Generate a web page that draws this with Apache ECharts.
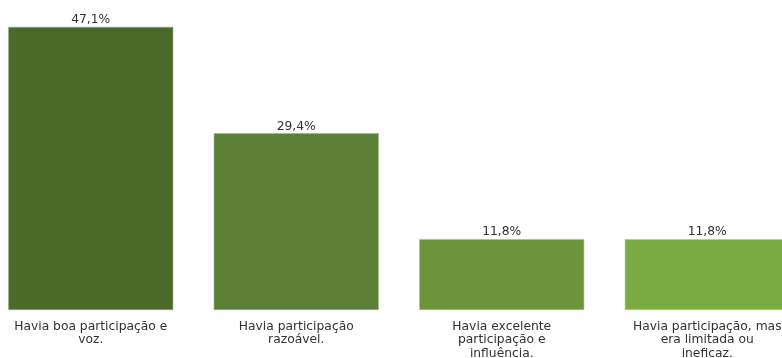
<!DOCTYPE html>
<html>
<head>
<meta charset="utf-8">
<script src="https://cdn.jsdelivr.net/npm/echarts@6/dist/echarts.min.js"></script>
<style>html,body{margin:0;padding:0;background:#fff;overflow:hidden;width:782px;height:358px}#c{width:822px;height:358px;margin-left:-12px}</style>
</head>
<body>
<div id="c"></div>
<script>
var categories = ["Havia boa participação e\nvoz.", "Havia participação\nrazoável.", "Havia excelente\nparticipação e\ninfluência.", "Havia participação, mas\nera limitada ou\nineficaz."];
var values = [47.1, 29.4, 11.8, 11.8];
var colors = ["#4b6a2a", "#5a7f35", "#6b943b", "#7aac43"];
var borders = ["#8fa67a", "#9cb586", "#a7c48a", "#b2d08f"];

var chart = echarts.init(document.getElementById('c'), null, {renderer: 'canvas'});
chart.setOption({
  animation: false,
  grid: {left: 0, right: 0, top: 9.5, bottom: 48, containLabel: false, outerBoundsMode: 'none'},
  xAxis: {
    type: 'category',
    data: categories,
    axisLine: {show: false},
    axisTick: {show: false},
    axisLabel: {
      interval: 0,
      margin: 10,
      color: '#333',
      fontFamily: 'DejaVu Sans',
      fontSize: 12.3,
      lineHeight: 13.5,
      align: 'center'
    }
  },
  yAxis: {type: 'value', min: 0, max: 50, show: false, splitLine: {show: false}},
  series: [{
    type: 'bar',
    barWidth: 165,
    data: values.map(function (v, i) {
      return {value: v, itemStyle: {color: colors[i], borderColor: borders[i], borderWidth: 0.6}};
    }),
    label: {
      show: true,
      position: 'top',
      distance: 1,
      color: '#333',
      fontFamily: 'DejaVu Sans',
      fontSize: 12.3,
      formatter: function (p) { return p.value.toFixed(1).replace('.', ',') + '%'; }
    }
  }]
});
</script>
</body>
</html>
